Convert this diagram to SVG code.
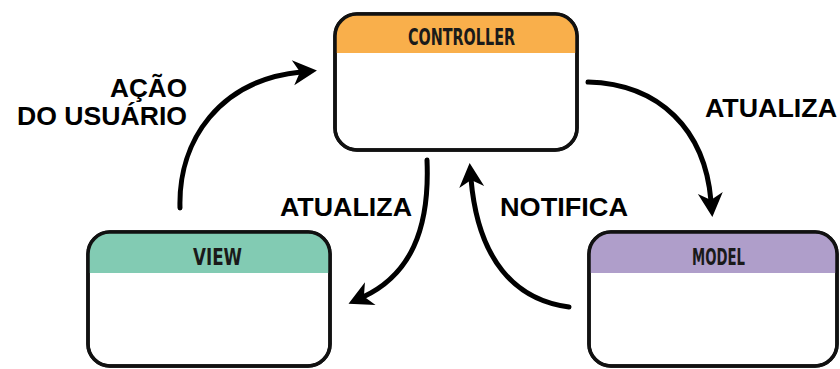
<svg xmlns="http://www.w3.org/2000/svg" width="840" height="369" viewBox="0 0 840 369">
  <style>
    .box { fill: #ffffff; stroke: #111111; stroke-width: 3.5; }
    .head { font-family: "DejaVu Sans Condensed", "Liberation Sans Narrow", "DejaVu Sans", sans-serif; font-size: 23px; font-weight: bold; fill: #1a1a1a; text-anchor: middle; }
    .label { font-family: "Liberation Sans", Arial, sans-serif; font-weight: bold; font-size: 25.5px; fill: #000000; }
    .flow { fill: none; stroke: #000000; stroke-width: 5; stroke-linecap: round; marker-end: url(#tip); }
  </style>
  <defs>
    <marker id="tip" viewBox="-9 -14 28 28" refX="0" refY="0" markerWidth="28" markerHeight="28" markerUnits="userSpaceOnUse" orient="auto">
      <path d="M16,0 L-8,-12.5 L-1,0 L-8,12.5 Z" fill="#000000"/>
    </marker>
    <clipPath id="clipC"><rect x="335" y="14" width="242" height="136" rx="22"/></clipPath>
    <clipPath id="clipV"><rect x="88" y="232" width="242" height="134" rx="22"/></clipPath>
    <clipPath id="clipM"><rect x="589" y="232" width="248" height="134" rx="22"/></clipPath>
  </defs>

  <g id="controller">
    <rect class="box" x="335" y="14" width="242" height="136" rx="22"/>
    <rect x="335" y="14" width="242" height="39" fill="#F9AF4B" clip-path="url(#clipC)"/>
    <rect x="335" y="14" width="242" height="136" rx="22" fill="none" stroke="#111111" stroke-width="3.5"/>
    <text class="head" x="461.5" y="45" textLength="107" lengthAdjust="spacingAndGlyphs">CONTROLLER</text>
  </g>

  <g id="view">
    <rect class="box" x="88" y="232" width="242" height="134" rx="22"/>
    <rect x="88" y="232" width="242" height="41" fill="#82CBB3" clip-path="url(#clipV)"/>
    <rect x="88" y="232" width="242" height="134" rx="22" fill="none" stroke="#111111" stroke-width="3.5"/>
    <text class="head" x="217.5" y="265" textLength="49" lengthAdjust="spacingAndGlyphs">VIEW</text>
  </g>

  <g id="model">
    <rect class="box" x="589" y="232" width="248" height="134" rx="22"/>
    <rect x="589" y="232" width="248" height="41" fill="#AF9ECA" clip-path="url(#clipM)"/>
    <rect x="589" y="232" width="248" height="134" rx="22" fill="none" stroke="#111111" stroke-width="3.5"/>
    <text class="head" x="718.5" y="265" textLength="53" lengthAdjust="spacingAndGlyphs">MODEL</text>
  </g>

  <g id="connectors">
    <path class="flow" d="M180,208 C178,140 220,80 301,72"/>
    <path class="flow" d="M427,160 C430,230 410,275 363,297"/>
    <path class="flow" d="M569,307 C515,300 478,260 471,179"/>
    <path class="flow" d="M588,82 C660,84 705,130 711,201"/>
  </g>

  <g id="labels">
    <text class="label" x="187" y="97" text-anchor="end" textLength="77" lengthAdjust="spacingAndGlyphs">AÇÃO</text>
    <text class="label" x="187" y="125" text-anchor="end" textLength="170" lengthAdjust="spacingAndGlyphs">DO USUÁRIO</text>
    <text class="label" x="837" y="117" text-anchor="end" textLength="132" lengthAdjust="spacingAndGlyphs">ATUALIZA</text>
    <text class="label" x="412" y="216" text-anchor="end" textLength="132" lengthAdjust="spacingAndGlyphs">ATUALIZA</text>
    <text class="label" x="500" y="216" textLength="128" lengthAdjust="spacingAndGlyphs">NOTIFICA</text>
  </g>
</svg>
